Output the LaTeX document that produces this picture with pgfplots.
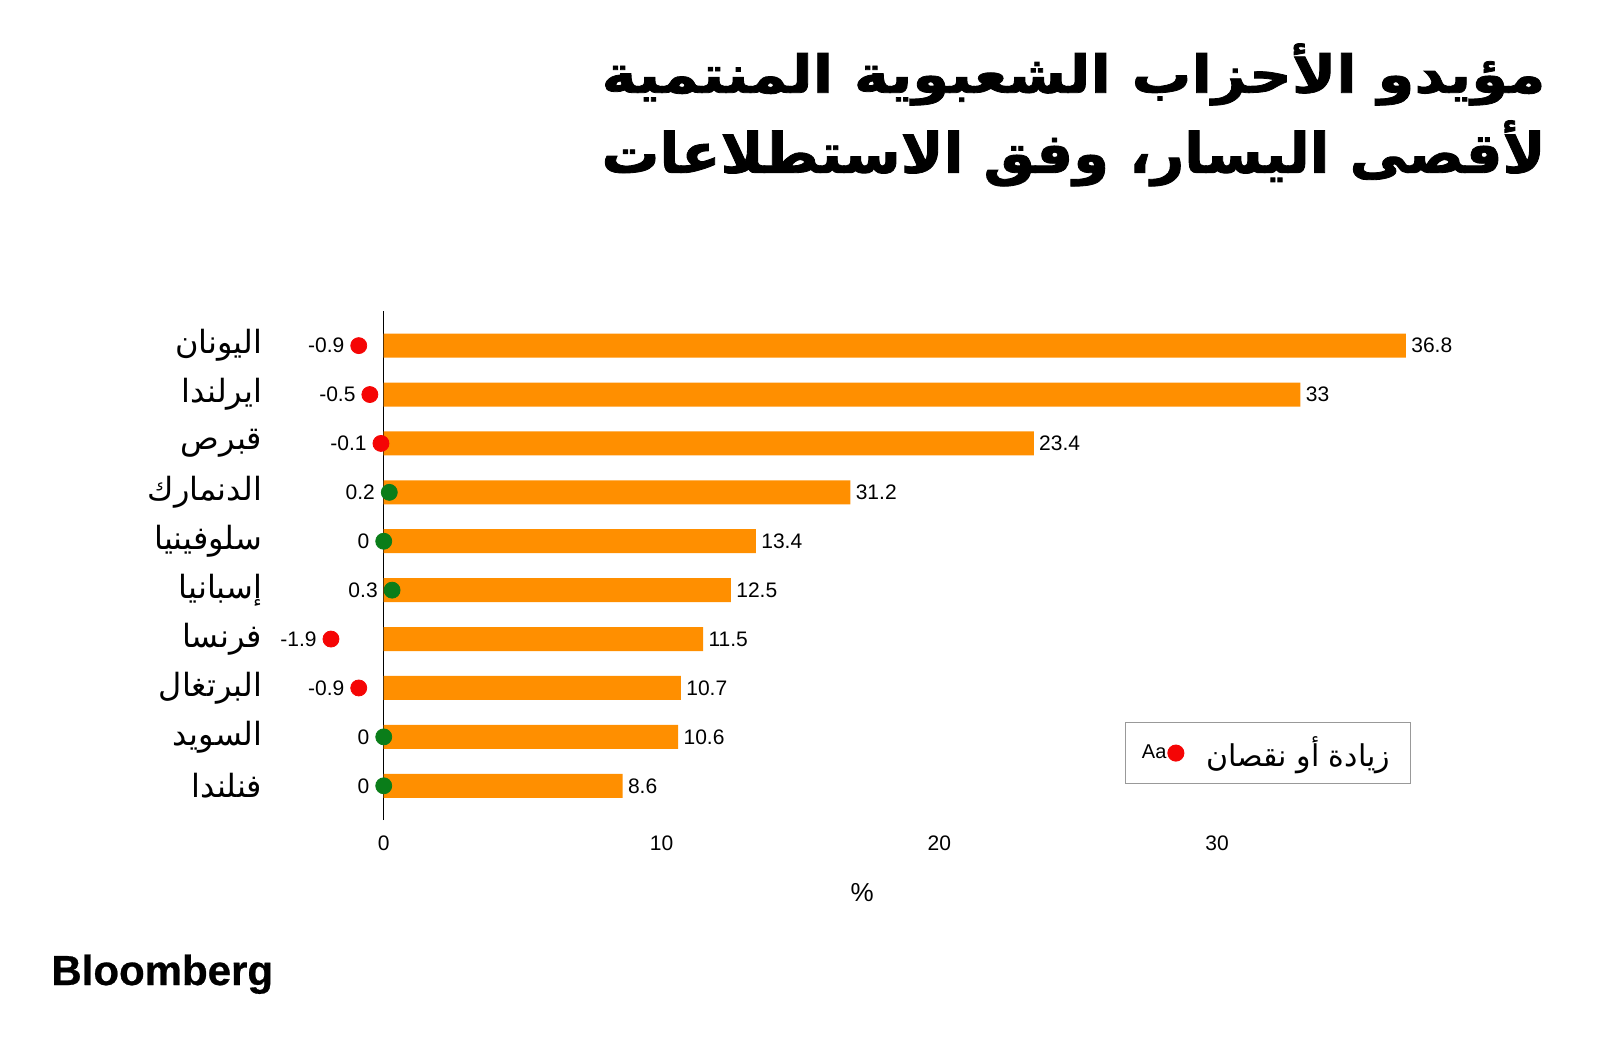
\documentclass[border=0pt]{standalone}
\usepackage{pgfplots}
\pgfplotsset{compat=1.18}
\usepackage{pgfplotstable}
\usepackage{fontspec}
\setmainfont{Liberation Sans}
\newfontfamily\arabicfont[Script=Arabic]{DejaVu Sans}
\newfontfamily\arabictitle[Script=Arabic,FakeBold=1.5]{DejaVu Sans Bold}
\newfontfamily\logofont[FakeBold=0.6]{Liberation Sans Bold}
\TeXXeTstate=1
\newcommand\ar[1]{{\arabicfont\beginR #1\endR}}
\definecolor{barorange}{RGB}{255,143,0}
\definecolor{dotred}{RGB}{245,5,5}
\definecolor{dotgreen}{RGB}{10,125,25}

\pgfplotstableread{
pos val lab
9 36.8 36.8
8 33 33
7 23.4 23.4
6 16.8 31.2
5 13.4 13.4
4 12.5 12.5
3 11.5 11.5
2 10.7 10.7
1 10.6 10.6
0 8.6 8.6
}\bars

\pgfplotstableread{
pos chg lab
9 -0.9 -0.9
8 -0.5 -0.5
7 -0.1 -0.1
3 -1.9 -1.9
2 -0.9 -0.9
}\neg

\pgfplotstableread{
pos chg lab
6 0.2 0.2
5 0 0
4 0.3 0.3
1 0 0
0 0 0
}\pos

\begin{document}
\begin{tikzpicture}
\useasboundingbox (0,0) rectangle (800pt,-526.5pt);

\node[anchor=north east, inner sep=0pt] at (773pt,-21.5pt)
  {\resizebox*{472pt}{31pt}{\arabictitle\beginR مؤيدو الأحزاب الشعبوية المنتمية\endR}};
\node[anchor=north east, inner sep=0pt] at (773pt,-60pt)
  {\resizebox*{472pt}{33pt}{\arabictitle\beginR لأقصى اليسار، وفق الاستطلاعات\endR}};

\begin{axis}[
  at={(157.15pt,-410pt)}, anchor=south west,
  scale only axis, width=562.5pt, height=254.3pt,
  xmin=-2.5, xmax=38, ymin=-0.7, ymax=9.7,
  axis line style={draw=none}, tick style={draw=none},
  major tick length=0pt,
  xtick={0,10,20,30},
  /pgf/number format/assume math mode=true,
  xticklabel style={font=\fontsize{10.5}{12}\selectfont, yshift=-4.5pt},
  ytick={0,...,9},
  yticklabels={\ar{فنلندا},\ar{السويد},\ar{البرتغال},\ar{فرنسا},\ar{إسبانيا},\ar{سلوفينيا},\ar{الدنمارك},\ar{قبرص},\ar{ايرلندا},\ar{اليونان}},
  yticklabel style={font=\fontsize{16}{18}\selectfont, xshift=-22.5pt},
  xlabel={\%},
  xlabel style={at={(axis description cs:0.487,0)}, anchor=center, yshift=-36.5pt, font=\fontsize{13}{14}\selectfont},
  clip=false,
  legend style={at={(axis description cs:0.721,0.1925)}, anchor=north west, draw=gray!80, line width=0.5pt,
    inner xsep=8pt, inner ysep=5pt, font=\fontsize{15}{16}\selectfont,
    /tikz/every even column/.append style={column sep=10pt},
    /tikz/every odd column/.append style={column sep=9pt}},
  legend image code/.code={
    \node[anchor=east, inner sep=0pt, black, font=\fontsize{10}{10}\selectfont] at (-4.5pt,0) {Aa};
    \fill[dotred] (0,0) circle (4pt);
  },
]
\addplot[black, line width=0.6pt, forget plot] coordinates {(0,-0.7) (0,9.7)};
\addplot[xbar, bar width=12pt, fill=barorange, draw=none, forget plot,
  point meta=explicit symbolic, nodes near coords,
  every node near coord/.append style={anchor=west, inner sep=2.5pt, font=\fontsize{10.5}{11}\selectfont, black}]
  table[x=val, y=pos, meta=lab] {\bars};
\addplot[only marks, mark=*, mark size=4pt, color=dotred, forget plot,
  point meta=explicit symbolic, nodes near coords,
  every node near coord/.append style={anchor=east, inner sep=2pt, xshift=-5pt, font=\fontsize{10.5}{11}\selectfont, black}]
  table[x=chg, y=pos, meta=lab] {\neg};
\addplot[only marks, mark=*, mark size=4pt, color=dotgreen, forget plot,
  point meta=explicit symbolic, nodes near coords,
  every node near coord/.append style={anchor=east, inner sep=2pt, xshift=-5pt, font=\fontsize{10.5}{11}\selectfont, black}]
  table[x=chg, y=pos, meta=lab] {\pos};
\addlegendimage{only marks, mark=*, dotred}
\addlegendentry{\ar{زيادة أو نقصان}}
\end{axis}

\node[anchor=base west, inner sep=0pt, font=\logofont\fontsize{21}{24}\selectfont] at (25.5pt,-492.5pt) {Bloomberg};
\end{tikzpicture}
\end{document}
